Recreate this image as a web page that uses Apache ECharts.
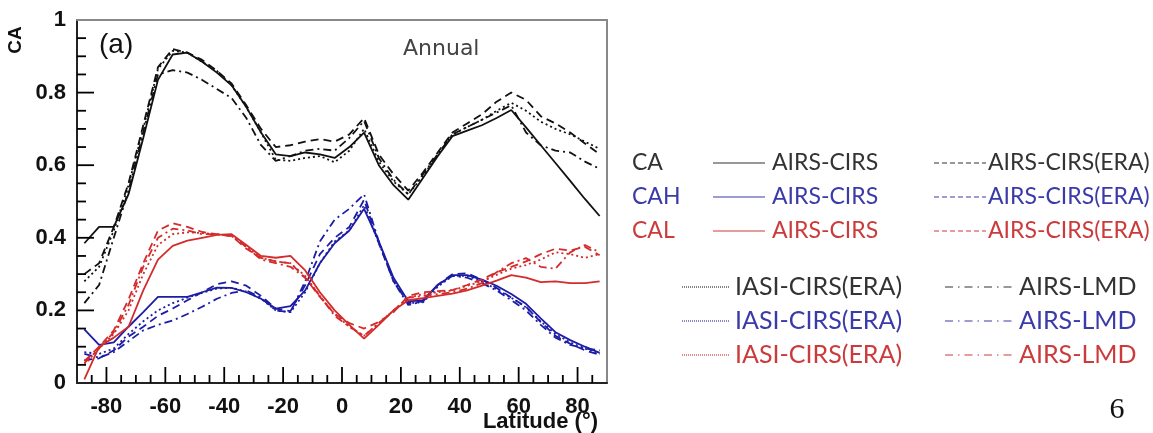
<!DOCTYPE html>
<html>
<head>
<meta charset="utf-8">
<script src="https://cdn.jsdelivr.net/npm/echarts@6/dist/echarts.min.js"></script>
<style>
  html, body { margin: 0; padding: 0; background: #fff; }
  #main { width: 1153px; height: 433px; }
</style>
</head>
<body>
<div id="main"></div>
<script>
// latitude bins (deg)
const lat = [-87.5, -82.5, -77.5, -72.5, -67.5, -62.5, -57.5, -52.5, -47.5, -42.5, -37.5, -32.5,
  -27.5, -22.5, -17.5, -12.5, -7.5, -2.5, 2.5, 7.5, 12.5, 17.5, 22.5, 27.5,
  32.5, 37.5, 42.5, 47.5, 52.5, 57.5, 62.5, 67.5, 72.5, 77.5, 82.5, 87.5];
const xLabels = [-80, -60, -40, -20, 0, 20, 40, 60, 80];

// CA (total)
const caAirs = [0.385, 0.43, 0.43, 0.52, 0.675, 0.835, 0.905, 0.91, 0.885, 0.855, 0.82, 0.76,
  0.69, 0.63, 0.625, 0.635, 0.63, 0.62, 0.65, 0.69, 0.60, 0.545, 0.505, 0.565,
  0.625, 0.68, 0.695, 0.71, 0.73, 0.752, 0.704, 0.655, 0.606, 0.557, 0.507, 0.46];
const caEra = [0.30, 0.33, 0.43, 0.55, 0.71, 0.87, 0.92, 0.91, 0.89, 0.86, 0.825, 0.765,
  0.70, 0.65, 0.655, 0.665, 0.672, 0.665, 0.685, 0.73, 0.63, 0.575, 0.53, 0.58,
  0.635, 0.69, 0.715, 0.74, 0.775, 0.80, 0.78, 0.735, 0.715, 0.69, 0.66, 0.63];
const caIasi = [0.28, 0.32, 0.42, 0.545, 0.70, 0.865, 0.915, 0.91, 0.885, 0.86, 0.82, 0.76,
  0.69, 0.615, 0.612, 0.62, 0.625, 0.608, 0.64, 0.70, 0.61, 0.555, 0.52, 0.57,
  0.63, 0.685, 0.705, 0.725, 0.75, 0.772, 0.75, 0.72, 0.70, 0.685, 0.665, 0.645];
const caLmd = [0.22, 0.27, 0.40, 0.53, 0.69, 0.85, 0.862, 0.855, 0.835, 0.81, 0.785, 0.73,
  0.655, 0.612, 0.625, 0.64, 0.645, 0.64, 0.675, 0.722, 0.62, 0.56, 0.52, 0.575,
  0.63, 0.685, 0.705, 0.725, 0.745, 0.765, 0.69, 0.655, 0.64, 0.635, 0.61, 0.59];

// CAH (high clouds)
const cahAirs = [0.148, 0.105, 0.112, 0.155, 0.195, 0.237, 0.237, 0.237, 0.25, 0.263, 0.262, 0.25,
  0.232, 0.205, 0.212, 0.255, 0.33, 0.385, 0.42, 0.48, 0.39, 0.29, 0.225, 0.228,
  0.27, 0.297, 0.297, 0.285, 0.268, 0.245, 0.218, 0.178, 0.14, 0.118, 0.10, 0.083];
const cahEra = [0.063, 0.068, 0.09, 0.128, 0.155, 0.185, 0.205, 0.228, 0.25, 0.272, 0.28, 0.268,
  0.24, 0.205, 0.198, 0.27, 0.355, 0.40, 0.43, 0.505, 0.385, 0.28, 0.22, 0.225,
  0.27, 0.30, 0.302, 0.285, 0.262, 0.235, 0.21, 0.168, 0.13, 0.108, 0.09, 0.078];
const cahIasi = [0.085, 0.08, 0.095, 0.135, 0.17, 0.20, 0.22, 0.235, 0.248, 0.26, 0.262, 0.252,
  0.232, 0.20, 0.195, 0.25, 0.33, 0.39, 0.42, 0.49, 0.385, 0.285, 0.22, 0.222,
  0.265, 0.295, 0.295, 0.28, 0.258, 0.235, 0.208, 0.17, 0.135, 0.112, 0.095, 0.08];
const cahLmd = [0.08, 0.07, 0.085, 0.115, 0.145, 0.16, 0.172, 0.19, 0.21, 0.232, 0.248, 0.255,
  0.235, 0.20, 0.195, 0.28, 0.39, 0.45, 0.48, 0.52, 0.39, 0.28, 0.215, 0.225,
  0.27, 0.295, 0.29, 0.275, 0.255, 0.228, 0.20, 0.16, 0.125, 0.105, 0.095, 0.09];

// CAL (low clouds)
const calAirs = [0.01, 0.10, 0.125, 0.155, 0.255, 0.34, 0.378, 0.392, 0.40, 0.408, 0.41, 0.38,
  0.35, 0.345, 0.35, 0.31, 0.25, 0.20, 0.16, 0.122, 0.16, 0.20, 0.228, 0.234,
  0.24, 0.246, 0.255, 0.268, 0.282, 0.297, 0.29, 0.278, 0.28, 0.275, 0.275, 0.28];
const calEra = [0.06, 0.10, 0.145, 0.23, 0.33, 0.42, 0.44, 0.43, 0.416, 0.41, 0.405, 0.37,
  0.345, 0.335, 0.33, 0.29, 0.237, 0.19, 0.165, 0.15, 0.168, 0.195, 0.24, 0.25,
  0.253, 0.256, 0.27, 0.285, 0.305, 0.32, 0.335, 0.355, 0.37, 0.365, 0.375, 0.352];
const calIasi = [0.05, 0.095, 0.135, 0.20, 0.30, 0.38, 0.41, 0.415, 0.413, 0.41, 0.405, 0.375,
  0.345, 0.335, 0.33, 0.295, 0.24, 0.19, 0.155, 0.13, 0.165, 0.20, 0.235, 0.245,
  0.25, 0.255, 0.268, 0.28, 0.298, 0.315, 0.325, 0.34, 0.36, 0.355, 0.345, 0.355];
const calLmd = [0.055, 0.095, 0.14, 0.215, 0.32, 0.40, 0.425, 0.42, 0.41, 0.41, 0.405, 0.375,
  0.34, 0.33, 0.32, 0.29, 0.24, 0.185, 0.155, 0.13, 0.165, 0.20, 0.235, 0.24,
  0.245, 0.25, 0.26, 0.275, 0.305, 0.33, 0.344, 0.32, 0.315, 0.36, 0.38, 0.36];

const BLACK = '#111111', BLUE = '#1c1ca6', RED = '#d42b2b';
const SOLID = 'solid', DASH = [8, 5], DOT = [2, 3], DASHDOT = [8, 4, 2, 4];

function mk(name, vals, color, dash) {
  return {
    name: name,
    type: 'line',
    data: lat.map((x, i) => [x, vals[i]]),
    symbol: 'none',
    silent: true,
    lineStyle: { color: color, width: 1.8, type: dash }
  };
}

// plot box size in px, used only to turn tick lengths into axis units
const plotW = 1153 - 77 - 546, plotH = 433 - 20 - 50;
// tick marks as short two-point line series; long at labelled values
const tickSeries = [];
function tick(p0, p1) {
  tickSeries.push({ type: 'line', data: [p0, p1], symbol: 'none', silent: true, clip: false, z: 3,
    lineStyle: { color: '#000', width: 1.8 } });
}
for (let v = -85; v <= 85; v += 5) {
  const len = xLabels.indexOf(v) >= 0 ? 16 : 8;
  tick([v, 0], [v, len / plotH]);
}
for (let k = 1; k < 20; k++) {
  const len = k % 4 === 0 ? 17 : 9;
  tick([-90, k / 20], [-90 + len * 180 / plotW, k / 20]);
}

// legend drawn by hand (layout is a table, not a normal legend)
function legText(x, y, text, color, size) {
  return { type: 'text', x: x, y: y, style: { text: text, fill: color, font: size + 'px Lato', textVerticalAlign: 'middle' } };
}
function legLine(x1, x2, y, color, dash) {
  return { type: 'line', shape: { x1: x1, y1: y, x2: x2, y2: y }, style: { stroke: color, lineWidth: 1.2, lineDash: dash } };
}
const rowsTop = [163, 197, 231];
const rowsBot = [287, 321, 355];
const legCol = ['#333333', '#3a3aa8', '#cc3b3b'];
const legName = ['CA', 'CAH', 'CAL'];
let graphics = [];
for (let i = 0; i < 3; i++) {
  graphics.push(legText(632, rowsTop[i], legName[i], legCol[i], 23));
  graphics.push(legLine(713, 765, rowsTop[i], legCol[i], null));
  graphics.push(legText(772, rowsTop[i], 'AIRS-CIRS', legCol[i], 23));
  graphics.push(legLine(934, 986, rowsTop[i], legCol[i], [5, 3]));
  graphics.push(legText(988, rowsTop[i], 'AIRS-CIRS(ERA)', legCol[i], 23));
  graphics.push(legLine(682, 730, rowsBot[i], legCol[i], [1, 1]));
  graphics.push(legText(735, rowsBot[i], 'IASI-CIRS(ERA)', legCol[i], 25));
  graphics.push(legLine(945, 1015, rowsBot[i], legCol[i], [8, 5, 1.5, 5]));
  graphics.push(legText(1019, rowsBot[i], 'AIRS-LMD', legCol[i], 25));
}
graphics.push({ type: 'text', x: 16, y: 40, rotation: Math.PI / 2,
  style: { text: 'CA', font: 'bold 19px "Liberation Sans"', fill: '#111', textAlign: 'center', textVerticalAlign: 'middle' } });
graphics.push({ type: 'text', x: 99, y: 45,
  style: { text: '(a)', font: '28px "Liberation Sans"', fill: '#111', textVerticalAlign: 'middle' } });
graphics.push({ type: 'text', x: 403, y: 49,
  style: { text: 'Annual', font: '22px "DejaVu Sans"', fill: '#444', textVerticalAlign: 'middle' } });
graphics.push({ type: 'text', x: 598, y: 422,
  style: { text: 'Latitude (°)', font: 'bold 22px "Liberation Sans"', fill: '#111', textAlign: 'right', textVerticalAlign: 'middle' } });
graphics.push({ type: 'text', x: 1117, y: 410,
  style: { text: '6', font: '30px "Liberation Serif"', fill: '#111', textAlign: 'center', textVerticalAlign: 'middle' } });

const chart = echarts.init(document.getElementById('main'), null, { renderer: 'canvas' });
const option = {
  animation: false,
  backgroundColor: '#fff',
  grid: { left: 77, right: 546, top: 20, bottom: 50, show: false },
  xAxis: [{
    type: 'value', min: -90, max: 90, interval: 5, position: 'bottom',
    axisLine: { show: true, onZero: false, lineStyle: { color: '#222', width: 2 } },
    axisTick: { show: false },
    axisLabel: { show: true, customValues: xLabels, margin: 13, fontSize: 22, fontWeight: 'bold', color: '#111', fontFamily: 'Liberation Sans' },
    splitLine: { show: false }
  }, {
    // top frame
    type: 'value', min: -90, max: 90, position: 'top',
    axisLine: { show: true, onZero: false, lineStyle: { color: '#888', width: 2 } },
    axisTick: { show: false }, axisLabel: { show: false }, splitLine: { show: false }
  }],
  yAxis: [{
    type: 'value', min: 0, max: 1, interval: 0.2, position: 'left',
    axisLine: { show: true, onZero: false, lineStyle: { color: '#222', width: 2 } },
    axisTick: { show: false },
    axisLabel: { show: true, margin: 11, fontSize: 22, fontWeight: 'bold', color: '#111', fontFamily: 'Liberation Sans' },
    splitLine: { show: false }
  }, {
    // right frame
    type: 'value', min: 0, max: 1, position: 'right',
    axisLine: { show: true, onZero: false, lineStyle: { color: '#888', width: 2 } },
    axisTick: { show: false }, axisLabel: { show: false }, splitLine: { show: false }
  }],
  graphic: graphics,
  series: [
    mk('CA AIRS-CIRS', caAirs, BLACK, SOLID),
    mk('CA AIRS-CIRS(ERA)', caEra, BLACK, DASH),
    mk('CA IASI-CIRS(ERA)', caIasi, BLACK, DOT),
    mk('CA AIRS-LMD', caLmd, BLACK, DASHDOT),
    mk('CAH AIRS-CIRS', cahAirs, BLUE, SOLID),
    mk('CAH AIRS-CIRS(ERA)', cahEra, BLUE, DASH),
    mk('CAH IASI-CIRS(ERA)', cahIasi, BLUE, DOT),
    mk('CAH AIRS-LMD', cahLmd, BLUE, DASHDOT),
    mk('CAL AIRS-CIRS', calAirs, RED, SOLID),
    mk('CAL AIRS-CIRS(ERA)', calEra, RED, DASH),
    mk('CAL IASI-CIRS(ERA)', calIasi, RED, DOT),
    mk('CAL AIRS-LMD', calLmd, RED, DASHDOT)
  ].concat(tickSeries)
};
chart.setOption(option);
</script>
</body>
</html>
